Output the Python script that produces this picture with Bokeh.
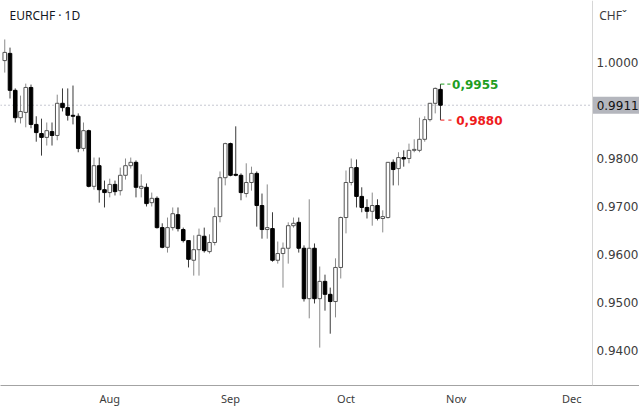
import numpy as np
from bokeh.plotting import figure
from bokeh.models import Range1d, FixedTicker, Label, ColumnDataSource, NumeralTickFormatter
from bokeh.core.properties import value
from bokeh.embed import file_html
from bokeh.resources import INLINE

# ---- data (EURCHF daily) ----
start_date = "2022-07-04"
open_ = [1.0004, 1.0019, 0.9942, 0.9885, 0.9896, 0.9948, 0.9871, 0.9852, 0.9844, 0.9856,
         0.9848, 0.9915, 0.9906, 0.9890, 0.9888, 0.9821, 0.9858, 0.9742, 0.9785, 0.9735,
         0.9729, 0.9746, 0.9733, 0.9765, 0.9785, 0.9792, 0.9738, 0.9740, 0.9708, 0.9717,
         0.9656, 0.9615, 0.9656, 0.9683, 0.9652, 0.9629, 0.9588, 0.9610, 0.9638, 0.9606,
         0.9625, 0.9679, 0.9760, 0.9831, 0.9767, 0.9765, 0.9727, 0.9750, 0.9769, 0.9702,
         0.9652, 0.9654, 0.9588, 0.9602, 0.9613, 0.9660, 0.9667, 0.9613, 0.9508, 0.9613,
         0.9508, 0.9544, 0.9517, 0.9502, 0.9573, 0.9677, 0.9750, 0.9781, 0.9721, 0.9698,
         0.9690, 0.9702, 0.9675, 0.9677, 0.9792, 0.9779, 0.9802, 0.9800, 0.9817, 0.9817,
         0.9840, 0.9881, 0.9915, 0.9944]
high = [1.0048, 1.0031, 0.9946, 0.9931, 0.9956, 0.9954, 0.9888, 0.9883, 0.9875, 0.9875,
        0.9933, 0.9946, 0.9946, 0.9952, 0.9894, 0.9875, 0.9860, 0.9802, 0.9802, 0.9754,
        0.9758, 0.9754, 0.9781, 0.9800, 0.9802, 0.9796, 0.9767, 0.9748, 0.9729, 0.9721,
        0.9665, 0.9677, 0.9698, 0.9698, 0.9656, 0.9629, 0.9640, 0.9654, 0.9656, 0.9642,
        0.9698, 0.9773, 0.9833, 0.9833, 0.9867, 0.9769, 0.9790, 0.9783, 0.9773, 0.9727,
        0.9746, 0.9688, 0.9627, 0.9625, 0.9667, 0.9677, 0.9677, 0.9619, 0.9715, 0.9623,
        0.9575, 0.9558, 0.9531, 0.9592, 0.9679, 0.9775, 0.9800, 0.9798, 0.9740, 0.9715,
        0.9729, 0.9715, 0.9692, 0.9792, 0.9798, 0.9813, 0.9817, 0.9831, 0.9840, 0.9885,
        0.9888, 0.9915, 0.9948, 0.9955]
low = [0.9979, 0.9925, 0.9875, 0.9873, 0.9865, 0.9863, 0.9835, 0.9806, 0.9827, 0.9827,
       0.9838, 0.9898, 0.9879, 0.9871, 0.9813, 0.9815, 0.9740, 0.9735, 0.9708, 0.9698,
       0.9719, 0.9723, 0.9723, 0.9756, 0.9779, 0.9719, 0.9719, 0.9700, 0.9700, 0.9654,
       0.9613, 0.9604, 0.9650, 0.9648, 0.9625, 0.9573, 0.9556, 0.9556, 0.9604, 0.9602,
       0.9619, 0.9667, 0.9744, 0.9763, 0.9763, 0.9713, 0.9719, 0.9733, 0.9658, 0.9633,
       0.9633, 0.9585, 0.9581, 0.9531, 0.9581, 0.9656, 0.9604, 0.9502, 0.9467, 0.9498,
       0.9406, 0.9483, 0.9435, 0.9469, 0.9550, 0.9644, 0.9744, 0.9698, 0.9688, 0.9675,
       0.9660, 0.9671, 0.9646, 0.9675, 0.9744, 0.9744, 0.9783, 0.9790, 0.9813, 0.9813,
       0.9835, 0.9877, 0.9894, 0.9880]
close = [1.0021, 0.9942, 0.9885, 0.9898, 0.9948, 0.9871, 0.9854, 0.9844, 0.9858, 0.9848,
         0.9915, 0.9906, 0.9890, 0.9888, 0.9821, 0.9858, 0.9742, 0.9785, 0.9735, 0.9729,
         0.9746, 0.9731, 0.9765, 0.9785, 0.9792, 0.9740, 0.9742, 0.9706, 0.9717, 0.9656,
         0.9615, 0.9656, 0.9685, 0.9654, 0.9629, 0.9590, 0.9610, 0.9640, 0.9608, 0.9625,
         0.9679, 0.9760, 0.9831, 0.9765, 0.9765, 0.9729, 0.9750, 0.9769, 0.9702, 0.9652,
         0.9656, 0.9588, 0.9602, 0.9613, 0.9660, 0.9665, 0.9613, 0.9508, 0.9613, 0.9508,
         0.9544, 0.9517, 0.9502, 0.9573, 0.9677, 0.9750, 0.9781, 0.9721, 0.9698, 0.9690,
         0.9702, 0.9675, 0.9679, 0.9792, 0.9777, 0.9802, 0.9799, 0.9817, 0.9819, 0.9840,
         0.9881, 0.9915, 0.9946, 0.9911]
month_labels = ["Aug", "Sep", "Oct", "Nov", "Dec"]
month_starts = ["2022-08-01", "2022-09-01", "2022-10-01", "2022-11-01", "2022-12-01"]
price_ticks = [0.94, 0.95, 0.96, 0.97, 0.98, 0.99, 1.00]
title_text = "EURCHF · 1D"
currency = "CHF"

# ---- derived ----
n = len(close)
idx = np.arange(n)
o = np.array(open_); h = np.array(high); l = np.array(low); c = np.array(close)
up = c >= o
month_pos = [int(np.busday_count(start_date, d)) for d in month_starts]
# scale labels hidden behind the last-price box are not shown
shown_ticks = [t for t in price_ticks if abs(t - close[-1]) > 0.002]

src_up = ColumnDataSource(dict(x=idx[up], h=h[up], l=l[up],
                               top=np.maximum(o, c)[up], bot=np.minimum(o, c)[up]))
src_dn = ColumnDataSource(dict(x=idx[~up], h=h[~up], l=l[~up],
                               top=np.maximum(o, c)[~up], bot=np.minimum(o, c)[~up]))

# layout: chart pane up to the price scale, price scale drawn inside the frame
x_start, x_end = -0.81, 120.91      # full window width
scale_x = 111.95                     # where the price scale begins
frame_h = 385

p = figure(width=639, height=408, output_backend="svg", toolbar_location=None,
           x_range=Range1d(x_start, x_end), y_range=Range1d(0.932708, 1.012917),
           y_axis_location="right",
           min_border_left=0, min_border_top=0, min_border_right=0, min_border_bottom=23)
p.grid.visible = False
p.outline_line_color = None
p.background_fill_color = "white"
p.border_fill_color = "white"

# price axis (fixed inside the frame)
ya = p.yaxis[0]
ya.fixed_location = scale_x
ya.ticker = FixedTicker(ticks=shown_ticks)
ya.formatter = NumeralTickFormatter(format="0.0000")
ya.major_tick_line_color = None
ya.minor_tick_line_color = None
ya.major_tick_out = 0
ya.major_tick_in = 0
ya.minor_tick_out = 0
ya.axis_line_color = "#d6d6d6"
ya.major_label_standoff = 4
ya.major_label_text_font = "DejaVu Sans"
ya.major_label_text_font_size = "12px"
ya.major_label_text_color = "#3c3c3c"

# time axis
xa = p.xaxis[0]
xa.ticker = FixedTicker(ticks=month_pos)
xa.major_label_overrides = {pos: lab for pos, lab in zip(month_pos, month_labels)}
xa.major_tick_line_color = None
xa.minor_tick_line_color = None
xa.major_tick_out = 0
xa.major_tick_in = 0
xa.minor_tick_out = 0
xa.axis_line_color = "#a3a3a3"
xa.major_label_standoff = 5
xa.major_label_text_font = "Noto Sans"
xa.major_label_text_font_size = "11px"
xa.major_label_text_color = "#3c3c3c"

# last price dotted line (chart pane only)
p.segment(x0=[x_start], y0=[close[-1]], x1=[scale_x], y1=[close[-1]],
          line_color="#8e91a3", line_width=1, line_dash="1 3")

# candles
p.segment(x0="x", y0="h", x1="x", y1="l", source=src_up, line_color="#8a8a8a", line_width=1)
p.segment(x0="x", y0="h", x1="x", y1="l", source=src_dn, line_color="#3a3a3a", line_width=1)
p.vbar(x="x", width=0.68, top="top", bottom="bot", source=src_up,
       fill_color="white", line_color="#555555", line_width=1)
p.vbar(x="x", width=0.68, top="top", bottom="bot", source=src_dn,
       fill_color="black", line_color="black", line_width=1)

# high / low markers of the last bar
green = "#1f9e1f"; red = "#ee1c1c"
last = n - 1
p.segment(x0=[last], y0=[high[-1]], x1=[last + 0.75], y1=[high[-1]], line_color=green, line_width=1)
p.segment(x0=[last + 1.3], y0=[high[-1]], x1=[last + 1.9], y1=[high[-1]], line_color=green, line_width=1)
p.segment(x0=[last], y0=[low[-1]], x1=[last + 0.75], y1=[low[-1]], line_color=red, line_width=1)
p.segment(x0=[last + 1.5], y0=[low[-1]], x1=[last + 2.1], y1=[low[-1]], line_color=red, line_width=1)
p.text(x=[last + 2.2], y=[high[-1]], text=[f"{high[-1]:.4f}".replace(".", ",")],
       text_font=value("DejaVu Sans"), text_font_style="bold", text_font_size="12px",
       text_color=green, text_baseline="middle", text_align="left")
p.text(x=[last + 3.0], y=[low[-1]], text=[f"{low[-1]:.4f}".replace(".", ",")],
       text_font=value("DejaVu Sans"), text_font_style="bold", text_font_size="12px",
       text_color=red, text_baseline="middle", text_align="left")

# last price box on the price scale
p.rect(x=[(scale_x + x_end) / 2], y=[close[-1]], width=[x_end - scale_x], height=17,
       height_units="screen", fill_color="#b4b6bd", line_color=None)
p.text(x=[scale_x + 0.8], y=[close[-1]], text=[f"{close[-1]:.4f}"],
       text_font=value("DejaVu Sans"), text_font_size="12px", text_color="#111111",
       text_baseline="middle", text_align="left")

# title and currency
p.add_layout(Label(x=9, y=frame_h - 15, x_units="screen", y_units="screen", text=title_text,
                   text_font="Noto Sans", text_font_size="12px", text_color="#131722",
                   text_baseline="middle"))
p.add_layout(Label(x=scale_x + 1.3, y=frame_h - 15, x_units="data", y_units="screen",
                   text=currency + "ˇ",
                   text_font="Noto Sans", text_font_size="12px", text_color="#3c3c3c",
                   text_baseline="middle"))

open("out.html", "w").write(file_html(p, INLINE))
